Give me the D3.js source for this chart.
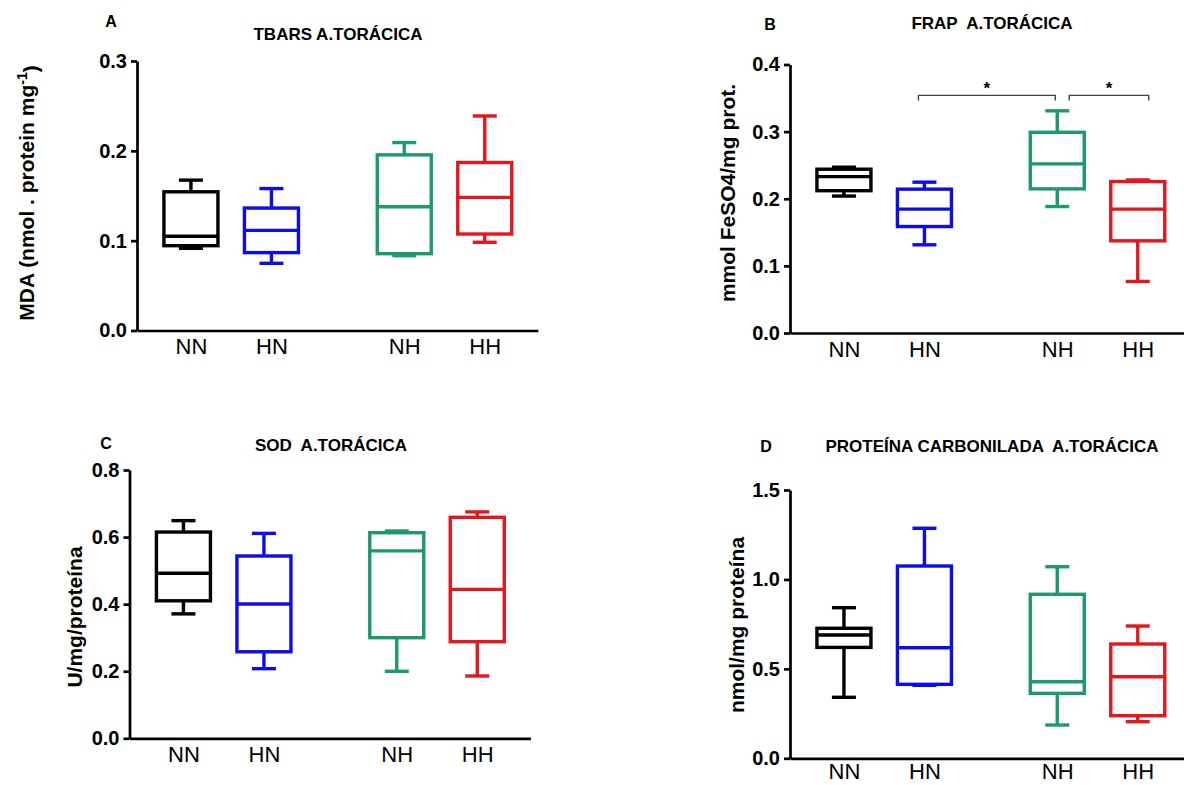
<!DOCTYPE html>
<html>
<head>
<meta charset="utf-8">
<script src="https://cdn.jsdelivr.net/npm/d3@7"></script>
<style>
  body { margin: 0; background: #fff; }
  text { font-family: "Liberation Sans", Arial, sans-serif; }
</style>
</head>
<body>
<div id="chart"></div>
<script>
// Groups and colours
const groups = ["NN", "HN", "NH", "HH"];
const colors = ["#000000", "#0c0cf2", "#1d9a6c", "#e5161c"];

// Box summaries per group: [min, q1, median, q3, max]
const tbars = [
  [0.0915, 0.0944, 0.1049, 0.1544, 0.1674],
  [0.0748, 0.0867, 0.1115, 0.1363, 0.158],
  [0.0833, 0.0855, 0.1378, 0.1955, 0.2092],
  [0.0982, 0.1074, 0.1482, 0.187, 0.2388],
];
const frap = [
  [0.204, 0.212, 0.233, 0.244, 0.247],
  [0.1314, 0.1586, 0.1845, 0.2143, 0.2247],
  [0.1884, 0.2147, 0.252, 0.299, 0.331],
  [0.0768, 0.1373, 0.1845, 0.2256, 0.228],
];
const sod = [
  [0.371, 0.41, 0.492, 0.615, 0.649],
  [0.2076, 0.258, 0.4004, 0.5436, 0.611],
  [0.1998, 0.3, 0.559, 0.613, 0.618],
  [0.1858, 0.288, 0.444, 0.659, 0.675],
];
const carbonyl = [
  [0.341, 0.62, 0.689, 0.727, 0.842],
  [0.408, 0.4135, 0.618, 1.075, 1.286],
  [0.186, 0.363, 0.428, 0.917, 1.071],
  [0.2046, 0.238, 0.456, 0.639, 0.7395],
];

// Tick values
const tbarsTicks = [0, 0.1, 0.2, 0.3];
const frapTicks = [0, 0.1, 0.2, 0.3, 0.4];
const sodTicks = [0, 0.2, 0.4, 0.6, 0.8];
const carbonylTicks = [0, 0.5, 1.0, 1.5];

// significance brackets on FRAP
const frapSig = [["HN", "NH"], ["NH", "HH"]];
const frapSigLevel = 0.354;

// group slots along x (gap between HN and NH)
const slots = [0, 1, 2.65, 3.65];

const panels = [
  { letter: "A", title: "TBARS A.TORÁCICA", data: tbars, ticks: tbarsTicks,
    x0: 137, yTop: 61, yBottom: 330.5, pad: 8,
    letterPos: [111, 27], titlePos: [338, 40], yTitlePos: [27, 193], sup: true,
    yTitle: "MDA (nmol . protein mg" },
  { letter: "B", title: "FRAP  A.TORÁCICA", data: frap, ticks: frapTicks,
    x0: 790, yTop: 64.5, yBottom: 333, pad: 8,
    letterPos: [770, 30], titlePos: [992, 29], yTitlePos: [728, 193],
    yTitle: "mmol FeSO4/mg prot." },
  { letter: "C", title: "SOD  A.TORÁCICA", data: sod, ticks: sodTicks,
    x0: 129.5, yTop: 470, yBottom: 738.3, pad: 8,
    letterPos: [106, 449], titlePos: [331, 451], yTitlePos: [75, 617],
    yTitle: "U/mg/proteína" },
  { letter: "D", title: "PROTEÍNA CARBONILADA  A.TORÁCICA", data: carbonyl, ticks: carbonylTicks,
    x0: 790, yTop: 490, yBottom: 758.3, pad: 5,
    letterPos: [766, 452], titlePos: [992, 452], yTitlePos: [737, 625],
    yTitle: "nmol/mg proteína" },
];

const svg = d3.select("#chart").append("svg")
  .attr("width", 1184)
  .attr("height", 785)
  .style("display", "block");

const step = 80.5;
const boxHalf = 27;
const capHalf = 12;
const lineW = 3.4;

panels.forEach((p) => {
  const g = svg.append("g");

  const y = d3.scaleLinear()
    .domain([0, d3.max(p.ticks)])
    .range([p.yBottom, p.yTop]);
  const x = d3.scaleLinear()
    .domain([-0.67, 4.31])
    .range([p.x0, p.x0 + 4.98 * step]);

  // Y axis
  const yAxis = g.append("g")
    .attr("transform", `translate(${p.x0},0)`)
    .call(d3.axisLeft(y).tickValues(p.ticks).tickFormat(d3.format(".1f")).tickSize(6).tickSizeOuter(0).tickPadding(4));
  yAxis.select(".domain").attr("stroke-width", 2.7);
  yAxis.selectAll(".tick line").attr("stroke-width", 2.7);
  yAxis.selectAll(".tick text")
    .attr("font-size", 20)
    .attr("font-weight", "bold")
    .attr("fill", "#000");

  // X axis
  const xAxis = g.append("g")
    .attr("transform", `translate(0,${p.yBottom})`)
    .call(d3.axisBottom(x).tickValues(slots).tickFormat((d, i) => groups[i]).tickSize(0).tickSizeOuter(0).tickPadding(p.pad));
  xAxis.select(".domain").attr("stroke-width", 2.7);
  xAxis.selectAll(".tick text")
    .attr("font-size", 22)
    .attr("fill", "#000");

  // boxes
  const boxes = g.selectAll(".box")
    .data(p.data)
    .enter()
    .append("g")
    .attr("class", "box")
    .attr("stroke", (d, i) => colors[i])
    .attr("stroke-width", lineW)
    .attr("fill", "none");

  boxes.append("rect")
    .attr("x", (d, i) => x(slots[i]) - boxHalf)
    .attr("width", boxHalf * 2)
    .attr("y", (d) => y(d[3]))
    .attr("height", (d) => y(d[1]) - y(d[3]));
  boxes.append("line")
    .attr("x1", (d, i) => x(slots[i]) - boxHalf)
    .attr("x2", (d, i) => x(slots[i]) + boxHalf)
    .attr("y1", (d) => y(d[2]))
    .attr("y2", (d) => y(d[2]));
  // whiskers
  boxes.append("line")
    .attr("x1", (d, i) => x(slots[i]))
    .attr("x2", (d, i) => x(slots[i]))
    .attr("y1", (d) => y(d[3]))
    .attr("y2", (d) => y(d[4]));
  boxes.append("line")
    .attr("x1", (d, i) => x(slots[i]))
    .attr("x2", (d, i) => x(slots[i]))
    .attr("y1", (d) => y(d[1]))
    .attr("y2", (d) => y(d[0]));
  boxes.append("line")
    .attr("x1", (d, i) => x(slots[i]) - capHalf)
    .attr("x2", (d, i) => x(slots[i]) + capHalf)
    .attr("y1", (d) => y(d[4]))
    .attr("y2", (d) => y(d[4]));
  boxes.append("line")
    .attr("x1", (d, i) => x(slots[i]) - capHalf)
    .attr("x2", (d, i) => x(slots[i]) + capHalf)
    .attr("y1", (d) => y(d[0]))
    .attr("y2", (d) => y(d[0]));

  // texts
  g.append("text")
    .attr("x", p.letterPos[0])
    .attr("y", p.letterPos[1])
    .attr("text-anchor", "middle")
    .attr("font-size", 16)
    .attr("font-weight", "bold")
    .text(p.letter);

  g.append("text")
    .attr("x", p.titlePos[0])
    .attr("y", p.titlePos[1])
    .attr("text-anchor", "middle")
    .attr("font-size", 17)
    .attr("font-weight", "bold")
    .style("white-space", "pre")
    .text(p.title);

  const yt = g.append("text")
    .attr("transform", `translate(${p.yTitlePos[0]},${p.yTitlePos[1]}) rotate(-90)`)
    .attr("text-anchor", "middle")
    .attr("dy", "0.35em")
    .attr("font-size", 21)
    .attr("font-weight", "bold")
    .text(p.yTitle);
  if (p.sup) {
    yt.append("tspan").attr("dy", "-0.5em").attr("font-size", 14).text("-1");
    yt.append("tspan").attr("dy", "0.5em").text(")");
  }

  // significance brackets
  if (p.letter === "B") {
    const offs = [[-6, -2], [12, 11]];
    frapSig.forEach((pair, k) => {
      const xa = x(slots[groups.indexOf(pair[0])]) + offs[k][0];
      const xb = x(slots[groups.indexOf(pair[1])]) + offs[k][1];
      const yb = y(frapSigLevel);
      g.append("path")
        .attr("d", `M${xa},${yb + 5}V${yb}H${xb}V${yb + 5}`)
        .attr("fill", "none")
        .attr("stroke", "#444")
        .attr("stroke-width", 1.4);
      g.append("text")
        .attr("x", (xa + xb) / 2)
        .attr("y", yb - 1)
        .attr("text-anchor", "middle")
        .attr("font-size", 17)
        .attr("font-weight", "bold")
        .text("*");
    });
  }
});
</script>
</body>
</html>
